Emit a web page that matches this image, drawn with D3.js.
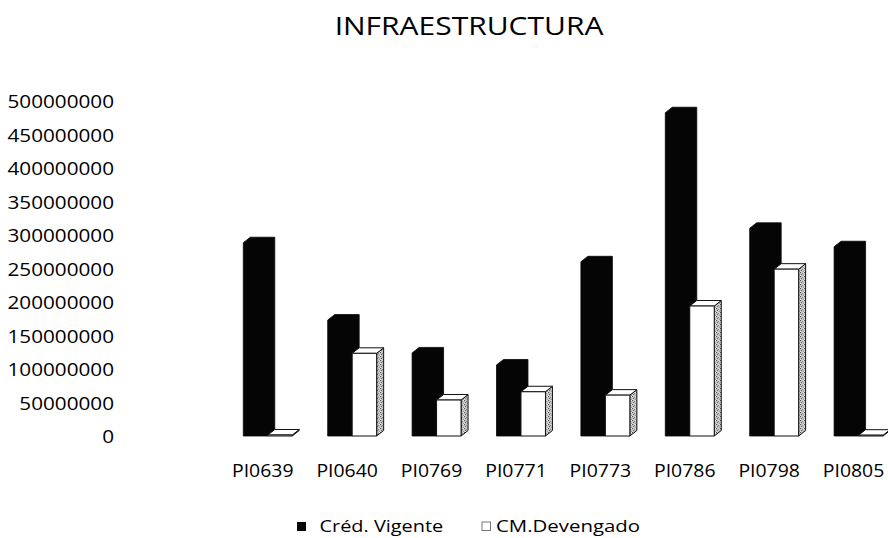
<!DOCTYPE html>
<html>
<head>
<meta charset="utf-8">
<script src="https://cdn.jsdelivr.net/npm/d3@7"></script>
<style>
  html, body { margin: 0; padding: 0; background: #fff; }
  svg { display: block; font-family: "Open Sans", sans-serif; }
  text { fill: #000; }
</style>
</head>
<body>
<svg id="chart" width="888" height="538"></svg>
<script>
// Project codes (categories)
const categories = ["PI0639", "PI0640", "PI0769", "PI0771", "PI0773", "PI0786", "PI0798", "PI0805"];
// Series values (pesos)
const credVigente  = [288500000, 173000000, 124000000, 106000000, 260000000, 482500000, 310000000, 282500000];
const cmDevengado  = [1500000, 123400000, 53700000, 66000000, 61000000, 194000000, 249000000, 1200000];
const seriesNames  = ["Créd. Vigente", "CM.Devengado"];
// Value axis ticks
const yTicks = [0, 50000000, 100000000, 150000000, 200000000, 250000000,
                300000000, 350000000, 400000000, 450000000, 500000000];
const title = "INFRAESTRUCTURA";

const svg = d3.select("#chart");

// Speckled grey used on the side faces of the light bars
const defs = svg.append("defs");
const pat = defs.append("pattern").attr("id", "stipple")
  .attr("width", 4).attr("height", 4).attr("patternUnits", "userSpaceOnUse");
pat.append("rect").attr("width", 4).attr("height", 4).attr("fill", "#c4c4c4");
[[0, 0, "#555"], [2, 1, "#888"], [1, 2, "#6a6a6a"], [3, 3, "#9a9a9a"], [3, 0, "#e6e6e6"], [0, 3, "#e0e0e0"]]
  .forEach(([px, py, col]) => pat.append("rect").attr("x", px).attr("y", py)
    .attr("width", 1).attr("height", 1).attr("fill", col));

// Scales
const y = d3.scaleLinear().domain([0, 500000000]).range([436, 101]);
const step = 84.4, inner = 0.42, outer = 0.3;
const x = d3.scaleBand().domain(categories)
  .range([243.3 - outer * step, 243.3 - outer * step + step * (categories.length - inner + 2 * outer)])
  .paddingInner(inner).paddingOuter(outer);

const w = x.bandwidth() / 2;   // front face width of one bar
const dx = 7, dy = 5.5;        // depth offset of the 3D extrusion

// Helper: horizontally widened text
function label(g, tx, ty, str, size, anchor, sx) {
  return g.append("text")
    .attr("transform", `translate(${tx},${ty}) scale(${sx},1)`)
    .attr("text-anchor", anchor)
    .style("font-size", size + "px")
    .text(str);
}

// Title
label(svg, 469, 35, title, 25, "middle", 1.2);

// Value axis
const yAxis = svg.append("g").attr("transform", "translate(114,0)")
  .call(d3.axisLeft(y).tickValues(yTicks).tickSize(0).tickPadding(0).tickFormat(d3.format("d")));
yAxis.select(".domain").remove();
yAxis.selectAll("text")
  .attr("x", 0).attr("dy", null).attr("y", 6.5)
  .attr("transform", "scale(1.12,1)")
  .attr("fill", "#000")
  .style("font-size", "18.5px")
  .style("font-family", "'Open Sans', sans-serif");

// Category axis (labels sit slightly left of the extruded bars)
const xAxis = svg.append("g").attr("transform", "translate(-5,0)")
  .call(d3.axisBottom(x).tickSize(0).tickPadding(0));
xAxis.select(".domain").remove();
xAxis.selectAll("text")
  .attr("y", 477).attr("dy", null)
  .attr("fill", "#000")
  .style("font-size", "18px")
  .style("font-family", "'Open Sans', sans-serif");
xAxis.selectAll(".tick").each(function () {
  const t = d3.select(this).select("text");
  const yv = +t.attr("y");
  t.attr("y", 0).attr("transform", `translate(0,${yv}) scale(1.08,1)`);
});

// Bars
const y0 = y(0);
const bars = svg.append("g");
categories.forEach((c, i) => {
  const x0 = x(c);
  // dark bar
  const vt = y(credVigente[i]);
  bars.append("path")
    .attr("d", `M${x0},${y0} L${x0},${vt} L${x0 + dx},${vt - dy} L${x0 + w + dx},${vt - dy} L${x0 + w + dx},${y0 - dy} L${x0 + w},${y0} Z`)
    .attr("fill", "#050505").attr("stroke", "#050505").attr("stroke-width", 0.8);

  // light bar
  const xl = x0 + w;
  const lt = y(cmDevengado[i]);
  const g = bars.append("g").attr("stroke", "#111").attr("stroke-width", 1).attr("stroke-linejoin", "round");
  g.append("path")   // side face
    .attr("d", `M${xl + w},${y0} L${xl + w},${lt} L${xl + w + dx},${lt - dy} L${xl + w + dx},${y0 - dy} Z`)
    .attr("fill", "url(#stipple)");
  g.append("path")   // top face
    .attr("d", `M${xl},${lt} L${xl + dx},${lt - dy} L${xl + w + dx},${lt - dy} L${xl + w},${lt} Z`)
    .attr("fill", "#fff");
  g.append("rect")   // front face
    .attr("x", xl).attr("y", lt).attr("width", w).attr("height", Math.max(0, y0 - lt))
    .attr("fill", "#fff");
});

// Legend
const legend = svg.append("g");
legend.append("rect").attr("x", 297).attr("y", 522).attr("width", 9).attr("height", 9)
  .attr("fill", "#050505");
label(legend, 319.5, 532.3, seriesNames[0], 17, "start", 1.17);
legend.append("rect").attr("x", 482).attr("y", 522).attr("width", 8.5).attr("height", 8.5)
  .attr("fill", "#fff").attr("stroke", "#777").attr("stroke-width", 1);
label(legend, 496, 532.3, seriesNames[1], 17, "start", 1.2);
</script>
</body>
</html>
